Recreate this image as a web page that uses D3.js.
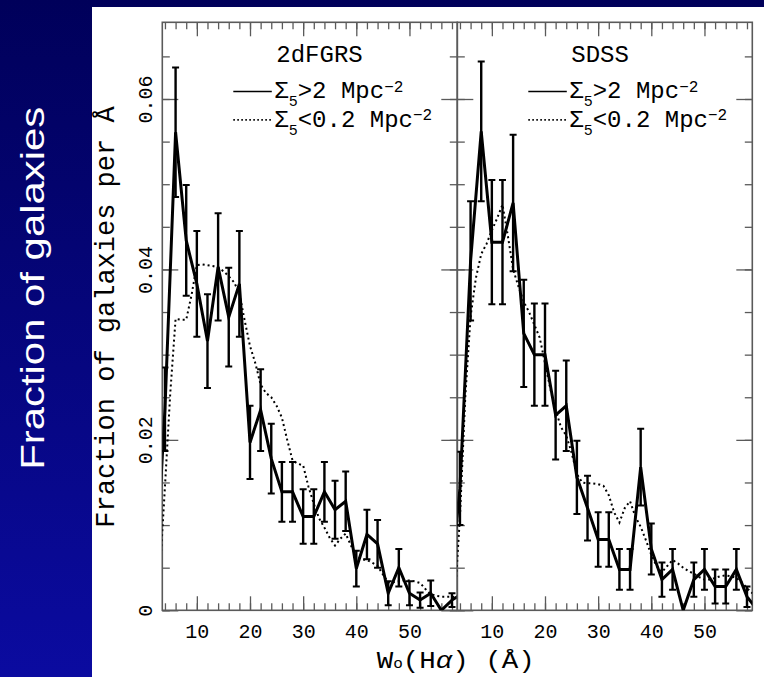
<!DOCTYPE html>
<html>
<head>
<meta charset="utf-8">
<script src="https://cdn.jsdelivr.net/npm/d3@7"></script>
<style>
  html, body { margin: 0; padding: 0; background: #fff; }
  svg { display: block; }
</style>
</head>
<body>
<svg id="chart" width="764" height="677"></svg>
<script>
// Distribution of H-alpha equivalent widths for galaxies in dense and sparse
// environments, for the 2dFGRS and SDSS samples.

const panelNames = ["2dFGRS", "SDSS"];

// 2 Angstrom bins for the high-density sample (Sigma_5 > 2 Mpc^-2)
const binCentres = [2, 4, 6, 8, 10, 12, 14, 16, 18, 20, 22, 24, 26, 28, 30,
                    32, 34, 36, 38, 40, 42, 44, 46, 48, 50, 52, 54, 56, 58, 60];

const dense2dF = [0.0015, 0.0236, 0.0561, 0.0434, 0.0383, 0.0316, 0.0403, 0.0344, 0.0383, 0.0197,
                  0.0235, 0.0178, 0.0139, 0.0139, 0.0110, 0.0110, 0.0139, 0.0118, 0.0128, 0.0049,
                  0.0089, 0.0078, 0.0020, 0.0050, 0.0020, 0.0012, 0.0020, 0.0000, 0.0012, 0.0020];
const dense2dFErr = [0, 0.0049, 0.0076, 0.0065, 0.0062, 0.0055, 0.0063, 0.0058, 0.0062, 0.0043,
                     0.0048, 0.0041, 0.0035, 0.0035, 0.0032, 0.0032, 0.0035, 0.0034, 0.0035, 0.0021,
                     0.0029, 0.0028, 0.0014, 0.0022, 0.0014, 0.0009, 0.0015, 0, 0.0008, 0];

const denseSDSS = [0.0020, 0.0143, 0.0410, 0.0562, 0.0432, 0.0432, 0.0478, 0.0325, 0.0300, 0.0300,
                   0.0229, 0.0240, 0.0156, 0.0120, 0.0083, 0.0083, 0.0048, 0.0048, 0.0168, 0.0072,
                   0.0036, 0.0048, 0.0000, 0.0036, 0.0048, 0.0028, 0.0028, 0.0048, 0.0016, 0.0000];
const denseSDSSErr = [0, 0.0043, 0.0070, 0.0082, 0.0073, 0.0073, 0.0080, 0.0063, 0.0060, 0.0060,
                      0.0052, 0.0053, 0.0043, 0.0038, 0.0032, 0.0032, 0.0024, 0.0024, 0.0045, 0.0030,
                      0.0020, 0.0024, 0, 0.0020, 0.0024, 0.0020, 0.0020, 0.0024, 0.0012, 0];

// 1 Angstrom sampling for the low-density sample (Sigma_5 < 0.2 Mpc^-2)
const sparseGrid = [3, 4, 5, 6, 7, 8, 9, 10, 11, 12, 13, 14, 15, 16, 17, 18, 19, 20, 21, 22,
                    23, 24, 25, 26, 27, 28, 29, 30, 31, 32, 33, 34, 35, 36, 37, 38, 39, 40, 41,
                    42, 43, 44, 45, 46, 47, 48, 49, 50, 51, 52, 53, 54, 55, 56, 57, 58, 59];

const sparse2dF = [0.0040, 0.0145, 0.0255, 0.0342, 0.0341, 0.0341, 0.0370, 0.0405, 0.0406, 0.0405,
                   0.0404, 0.0402, 0.0398, 0.0392, 0.0385, 0.0372, 0.0340, 0.0310, 0.0290, 0.0265,
                   0.0255, 0.0250, 0.0240, 0.0226, 0.0200, 0.0176, 0.0172, 0.0170, 0.0145, 0.0125,
                   0.0108, 0.0097, 0.0085, 0.0076, 0.0084, 0.0090, 0.0076, 0.0063, 0.0060, 0.0059,
                   0.0056, 0.0052, 0.0042, 0.0033, 0.0033, 0.0034, 0.0035, 0.0035, 0.0034, 0.0032,
                   0.0025, 0.0019, 0.0017, 0.0016, 0.0016, 0.0016, 0.0015];

const sparseSDSS = [0.0010, 0.0110, 0.0250, 0.0345, 0.0390, 0.0418, 0.0430, 0.0446, 0.0460, 0.0476,
                    0.0440, 0.0400, 0.0380, 0.0362, 0.0350, 0.0335, 0.0320, 0.0290, 0.0260, 0.0235,
                    0.0215, 0.0205, 0.0185, 0.0160, 0.0150, 0.0149, 0.0149, 0.0148, 0.0146, 0.0135,
                    0.0115, 0.0103, 0.0120, 0.0128, 0.0110, 0.0098, 0.0082, 0.0065, 0.0052, 0.0045,
                    0.0052, 0.0059, 0.0055, 0.0050, 0.0046, 0.0043, 0.0039, 0.0036, 0.0036, 0.0038,
                    0.0040, 0.0041, 0.0040, 0.0038, 0.0033, 0.0026, 0.0020];

const xMajorTicks = [10, 20, 30, 40, 50];
const xTickLabels = ["10", "20", "30", "40", "50"];
const yMajorTicks = [0, 0.02, 0.04, 0.06];
const yTickLabels = ["0", "0.02", "0.04", "0.06"];

const legendDense = ["Σ", "5", ">2 Mpc", "−2"];
const legendSparse = ["Σ", "5", "<0.2 Mpc", "−2"];

const panels = [
  { name: panelNames[0], dense: dense2dF, err: dense2dFErr, sparse: sparse2dF },
  { name: panelNames[1], dense: denseSDSS, err: denseSDSSErr, sparse: sparseSDSS }
];

// ---- layout ----
const W = 764, H = 677;
const plotTop = 22.3, plotBottom = 610.3;
const panelWidth = 295;
const panelLefts = [162.3, 457.3];
const MONO = "'Liberation Mono', 'DejaVu Sans Mono', monospace";
const AXIS = "#5a5a5a";

const svg = d3.select("#chart");

// slide background
const defs = svg.append("defs");
const grad = defs.append("linearGradient")
  .attr("id", "slideBg").attr("x1", 0).attr("y1", 0).attr("x2", 0).attr("y2", 1);
grad.append("stop").attr("offset", "0%").attr("stop-color", "#00005a");
grad.append("stop").attr("offset", "100%").attr("stop-color", "#0b0ba0");
svg.append("rect").attr("width", W).attr("height", H).attr("fill", "url(#slideBg)");
svg.append("rect").attr("x", 92).attr("y", 7).attr("width", W - 92).attr("height", H - 7)
  .attr("fill", "#fff");

svg.append("text")
  .attr("transform", "translate(43.5,288.3) rotate(-90)")
  .attr("text-anchor", "middle")
  .attr("font-family", "'Liberation Sans', Arial, sans-serif")
  .attr("font-size", 34)
  .attr("fill", "#fff")
  .attr("textLength", 363)
  .attr("lengthAdjust", "spacingAndGlyphs")
  .text("Fraction of galaxies");

const yScale = d3.scaleLinear().domain([0, 0.069]).range([plotBottom, plotTop]);
const yMinor = d3.range(0, 0.0691, 0.005);

panels.forEach((p, i) => {
  const left = panelLefts[i];
  const right = left + panelWidth;
  const x = d3.scaleLinear().domain([3.5, 59]).range([left, right]);
  const xMinor = d3.range(4, 59, 2);
  const g = svg.append("g");

  const clipId = "clip" + i;
  defs.append("clipPath").attr("id", clipId)
    .append("rect").attr("x", left).attr("y", plotTop)
    .attr("width", panelWidth).attr("height", plotBottom - plotTop);

  // ticks on all four sides, pointing inward
  function styleAxis(sel) {
    sel.select(".domain").remove();
    sel.selectAll(".tick line").attr("stroke", AXIS).attr("stroke-width", 1.3);
  }
  const bottomMajor = g.append("g").attr("transform", `translate(0,${plotBottom})`)
    .call(d3.axisBottom(x).tickValues(xMajorTicks).tickSize(-14).tickSizeOuter(0)
      .tickPadding(14).tickFormat((d, k) => xTickLabels[k]));
  styleAxis(bottomMajor);
  bottomMajor.attr("font-family", MONO).attr("font-size", 20);
  bottomMajor.selectAll(".tick text").attr("fill", "#000");

  g.append("g").attr("transform", `translate(0,${plotBottom})`)
    .call(d3.axisBottom(x).tickValues(xMinor).tickSize(-7).tickSizeOuter(0).tickFormat(""))
    .call(styleAxis);
  g.append("g").attr("transform", `translate(0,${plotTop})`)
    .call(d3.axisTop(x).tickValues(xMajorTicks).tickSize(-14).tickSizeOuter(0).tickFormat(""))
    .call(styleAxis);
  g.append("g").attr("transform", `translate(0,${plotTop})`)
    .call(d3.axisTop(x).tickValues(xMinor).tickSize(-7).tickSizeOuter(0).tickFormat(""))
    .call(styleAxis);

  const leftMajor = g.append("g").attr("transform", `translate(${left},0)`)
    .call(d3.axisLeft(yScale).tickValues(yMajorTicks).tickSize(-16).tickSizeOuter(0)
      .tickPadding(0).tickFormat((d, k) => i === 0 ? yTickLabels[k] : ""));
  styleAxis(leftMajor);
  leftMajor.attr("font-family", MONO).attr("font-size", 20);
  leftMajor.selectAll(".tick text")
    .attr("x", null).attr("dy", null)
    .attr("text-anchor", "middle")
    .attr("fill", "#000")
    .attr("transform", "translate(-10.6,0) rotate(-90)");

  g.append("g").attr("transform", `translate(${left},0)`)
    .call(d3.axisLeft(yScale).tickValues(yMinor).tickSize(-7.5).tickSizeOuter(0).tickFormat(""))
    .call(styleAxis);
  g.append("g").attr("transform", `translate(${right},0)`)
    .call(d3.axisRight(yScale).tickValues(yMajorTicks).tickSize(-16).tickSizeOuter(0).tickFormat(""))
    .call(styleAxis);
  g.append("g").attr("transform", `translate(${right},0)`)
    .call(d3.axisRight(yScale).tickValues(yMinor).tickSize(-7.5).tickSizeOuter(0).tickFormat(""))
    .call(styleAxis);

  // frame
  g.append("rect").attr("x", left).attr("y", plotTop)
    .attr("width", panelWidth).attr("height", plotBottom - plotTop)
    .attr("fill", "none").attr("stroke", AXIS).attr("stroke-width", 1.6);

  // data
  const data = g.append("g").attr("clip-path", `url(#${clipId})`);
  const line = d3.line().x(d => x(d[0])).y(d => yScale(d[1]));

  data.append("path")
    .datum(sparseGrid.map((c, k) => [c, p.sparse[k]]))
    .attr("d", line)
    .attr("fill", "none").attr("stroke", "#000")
    .attr("stroke-width", 2).attr("stroke-dasharray", "2,3");

  data.append("path")
    .datum(binCentres.map((c, k) => [c, p.dense[k]]))
    .attr("d", line)
    .attr("fill", "none").attr("stroke", "#000")
    .attr("stroke-width", 3).attr("stroke-linejoin", "miter");

  const bars = binCentres.map((c, k) => ({ c, v: p.dense[k], e: p.err[k] })).filter(d => d.e > 0);
  const eb = data.append("g").attr("stroke", "#000");
  eb.selectAll("line.stem").data(bars).join("line").attr("class", "stem")
    .attr("x1", d => x(d.c)).attr("x2", d => x(d.c))
    .attr("y1", d => yScale(d.v - d.e)).attr("y2", d => yScale(d.v + d.e))
    .attr("stroke-width", 2.4);
  ["lo", "hi"].forEach(end => {
    eb.selectAll("line.cap" + end).data(bars).join("line").attr("class", "cap" + end)
      .attr("x1", d => x(d.c) - 3.5).attr("x2", d => x(d.c) + 3.5)
      .attr("y1", d => yScale(end === "lo" ? d.v - d.e : d.v + d.e))
      .attr("y2", d => yScale(end === "lo" ? d.v - d.e : d.v + d.e))
      .attr("stroke-width", 2);
  });

  // title and legend
  g.append("text").attr("x", left + 114).attr("y", 61.7)
    .attr("font-family", MONO).attr("font-size", 24).attr("fill", "#000")
    .text(p.name);

  const legendRows = [
    { label: legendDense, y: 98.3, dash: null },
    { label: legendSparse, y: 126.7, dash: "1.6,2.4" }
  ];
  legendRows.forEach(r => {
    g.append("line")
      .attr("x1", left + 71).attr("x2", left + 109.5)
      .attr("y1", r.y - 6.8).attr("y2", r.y - 6.8)
      .attr("stroke", "#000").attr("stroke-width", 1.6)
      .attr("stroke-dasharray", r.dash);
    const t = g.append("text").attr("x", left + 112).attr("y", r.y)
      .attr("font-family", MONO).attr("font-size", 24).attr("fill", "#000");
    t.append("tspan").text(r.label[0]);
    t.append("tspan").attr("font-size", 15).attr("dy", 8).text(r.label[1]);
    t.append("tspan").attr("dy", -8).text(r.label[2]);
    t.append("tspan").attr("font-size", 16).attr("dy", -6.5).text(r.label[3]);
  });
});

// axis titles
svg.append("text")
  .attr("transform", "translate(113.5,317) rotate(-90)")
  .attr("text-anchor", "middle")
  .attr("font-family", MONO).attr("font-size", 27).attr("fill", "#000")
  .text("Fraction of galaxies per Å");

const xTitle = svg.append("text")
  .attr("x", 376.7).attr("y", 668.3)
  .attr("font-family", MONO).attr("font-size", 24).attr("fill", "#000")
  .attr("textLength", 158).attr("lengthAdjust", "spacingAndGlyphs");
xTitle.append("tspan").text("W");
xTitle.append("tspan").attr("font-size", 14).text("o");
xTitle.append("tspan").text("(H");
xTitle.append("tspan").attr("font-style", "italic").text("α");
xTitle.append("tspan").text(") (Å)");
</script>
</body>
</html>
